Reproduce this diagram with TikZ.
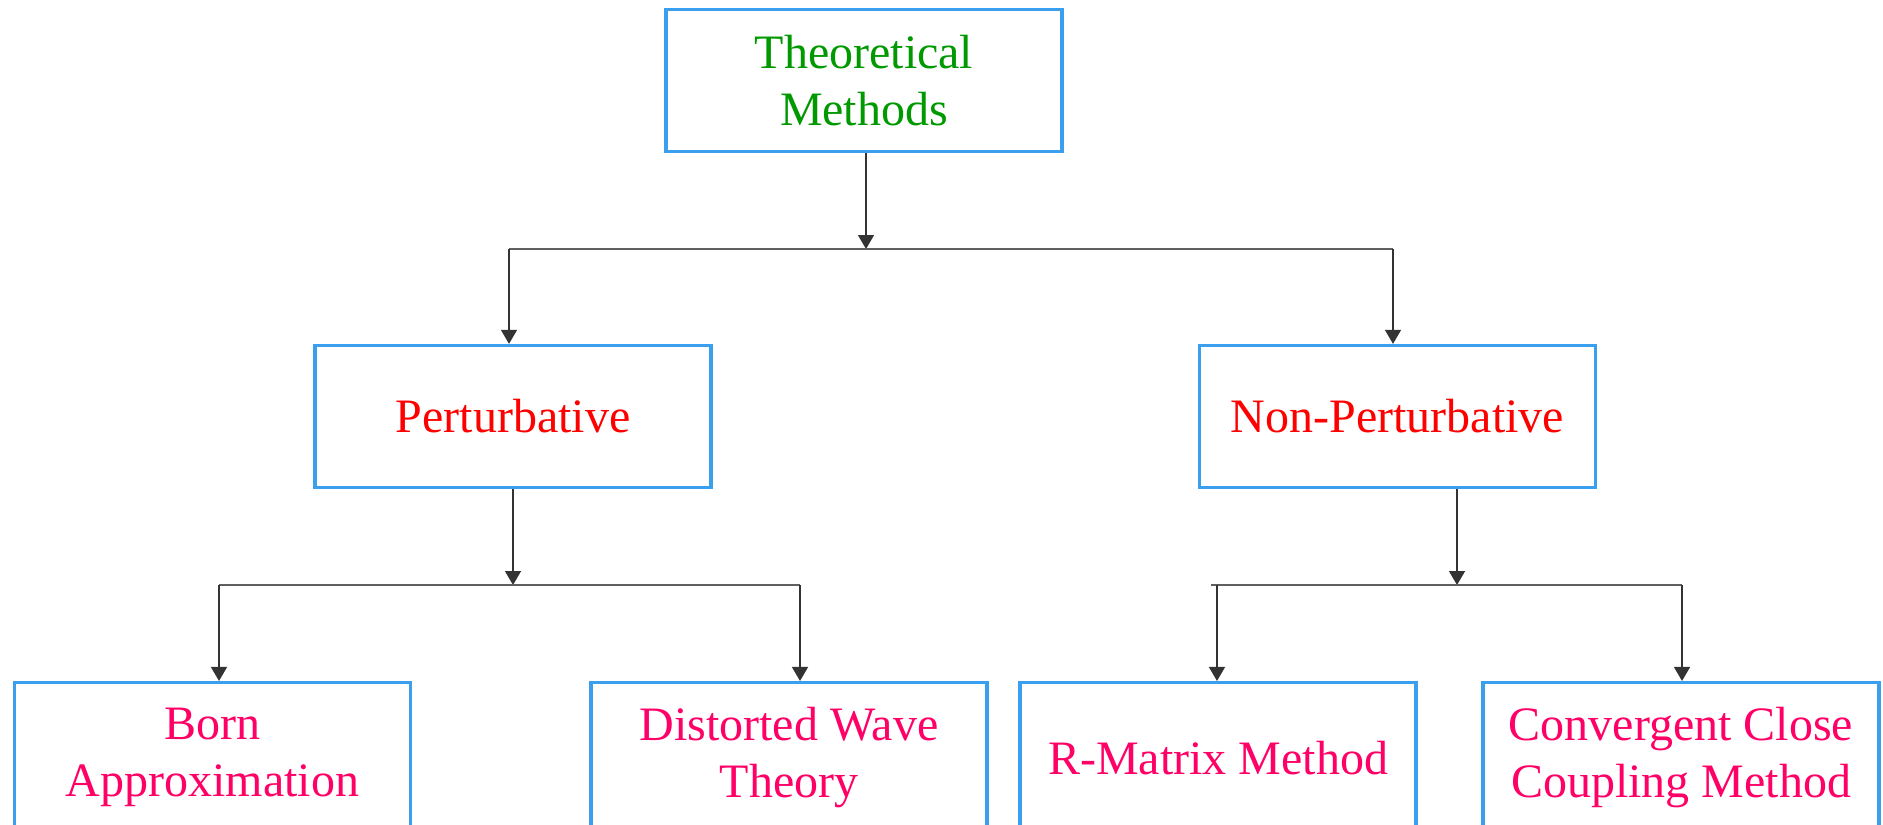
\documentclass[tikz,border=0pt]{standalone}
\usepackage{fontspec}
\setmainfont{Liberation Serif}
\usetikzlibrary{arrows.meta}
\definecolor{boxblue}{HTML}{3A9FEF}
\definecolor{tgreen}{HTML}{009900}
\definecolor{tred}{HTML}{FF0000}
\definecolor{tpink}{HTML}{FF0066}
\definecolor{vline}{HTML}{333333}
\definecolor{hline}{HTML}{606060}
\begin{document}
\begin{tikzpicture}[x=0.5pt,y=-0.5pt,
  box/.style={draw=boxblue, line width=1.65pt, fill=white, minimum width=198pt,
    minimum height=71pt, align=center, inner sep=0pt,
    font=\fontsize{24}{28.5}\selectfont},
  lowbox/.style={box, minimum height=75pt},
  hconn/.style={draw=hline, line width=0.75pt},
  arr/.style={draw=vline, line width=0.75pt, -{Triangle[width=8pt,length=7pt]}}]
\useasboundingbox (0,0) rectangle (1883,824);
% nodes
\node[box, text=tgreen] (top) at (864,80.5) {Theoretical\\Methods};
\node[box, text=tred] (pert) at (513,416.5) {Perturbative};
\node[box, text=tred] (npert) at (1397.5,416.5) {Non-Perturbative};
\node[lowbox, text=tpink] (born) at (212.5,757.6) {Born\\Approximation};
\node[lowbox, text=tpink] (dwt) at (789,757.6) {Distorted Wave\\Theory};
\node[lowbox, text=tpink] (rmat) at (1218,757.6) {R-Matrix Method};
\node[lowbox, text=tpink] (ccc) at (1681,757.6) {Convergent Close\\Coupling Method};
% junction coordinates
\coordinate (j1) at (866,249);
\coordinate (hl) at (509,249);
\coordinate (hr) at (1393,249);
\coordinate (pj) at (513,585);
\coordinate (bl) at (219,585);
\coordinate (br) at (800,585);
\coordinate (nj) at (1457,585);
\coordinate (rl) at (1211,585);
\coordinate (ra) at (1217,585);
\coordinate (rr) at (1682,585);
% level 1
\draw[arr] (j1 |- top.south) -- (j1);
\draw[hconn] (hl) -- (hr);
\draw[arr] (hl) -- (hl |- pert.north);
\draw[arr] (hr) -- (hr |- npert.north);
% level 2 left
\draw[arr] (pj |- pert.south) -- (pj);
\draw[hconn] (bl) -- (br);
\draw[arr] (bl) -- (bl |- born.north);
\draw[arr] (br) -- (br |- dwt.north);
% level 2 right
\draw[arr] (nj |- npert.south) -- (nj);
\draw[hconn] (rl) -- (rr);
\draw[arr] (ra) -- (ra |- rmat.north);
\draw[arr] (rr) -- (rr |- ccc.north);
\end{tikzpicture}
\end{document}
